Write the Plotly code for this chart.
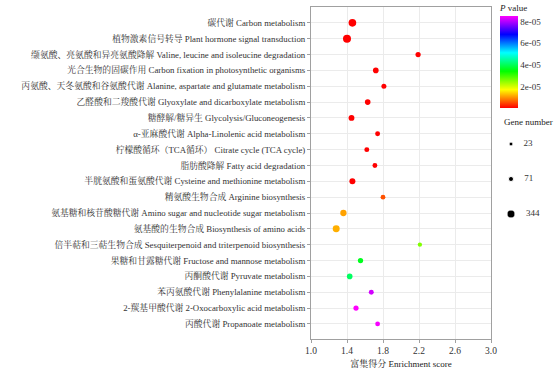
import plotly.graph_objects as go
import numpy as np

pathways = [
    "碳代谢 Carbon metabolism",
    "植物激素信号转导 Plant hormone signal transduction",
    "缬氨酸、亮氨酸和异亮氨酸降解 Valine, leucine and isoleucine degradation",
    "光合生物的固碳作用 Carbon fixation in photosynthetic organisms",
    "丙氨酸、天冬氨酸和谷氨酸代谢 Alanine, aspartate and glutamate metabolism",
    "乙醛酸和二羧酸代谢 Glyoxylate and dicarboxylate metabolism",
    "糖酵解/糖异生 Glycolysis/Gluconeogenesis",
    "α-亚麻酸代谢 Alpha-Linolenic acid metabolism",
    "柠檬酸循环（TCA循环） Citrate cycle (TCA cycle)",
    "脂肪酸降解 Fatty acid degradation",
    "半胱氨酸和蛋氨酸代谢 Cysteine and methionine metabolism",
    "精氨酸生物合成 Arginine biosynthesis",
    "氨基糖和核苷酸糖代谢 Amino sugar and nucleotide sugar metabolism",
    "氨基酸的生物合成 Biosynthesis of amino acids",
    "倍半萜和三萜生物合成 Sesquiterpenoid and triterpenoid biosynthesis",
    "果糖和甘露糖代谢 Fructose and mannose metabolism",
    "丙酮酸代谢 Pyruvate metabolism",
    "苯丙氨酸代谢 Phenylalanine metabolism",
    "2-羰基甲酸代谢 2-Oxocarboxylic acid metabolism",
    "丙酸代谢 Propanoate metabolism",
]
enrichment = [1.46, 1.40, 2.19, 1.72, 1.81, 1.63, 1.45, 1.74, 1.62, 1.71,
              1.46, 1.80, 1.36, 1.28, 2.21, 1.55, 1.43, 1.67, 1.50, 1.74]
gene_number = [300, 344, 80, 110, 68, 110, 125, 65, 65, 60,
               135, 55, 160, 225, 35, 85, 105, 65, 80, 55]
p_value = [1e-12, 1e-12, 2e-10, 5e-10, 8e-10, 1e-09, 2e-09, 3e-09, 5e-09, 8e-09,
           2e-08, 5.4e-06, 1.08e-05, 1.17e-05, 2.55e-05, 3.6e-05, 4.05e-05,
           8.2e-05, 8.5e-05, 8.45e-05]
legend_genes = [23, 71, 344]
cbar_ticks = [2e-05, 4e-05, 6e-05, 8e-05]
cbar_labels = ["2e-05", "4e-05", "6e-05", "8e-05"]

def dot_size(n):
    return 2.6 + 0.292 * np.sqrt(np.asarray(n, dtype=float))

FONT = "Liberation Serif, Times New Roman, Noto Serif CJK SC, Noto Sans CJK SC, serif"
colorscale = [[0.0, "#ff0000"], [0.2, "#ffff00"], [0.4, "#00ff00"],
              [0.6, "#00ffff"], [0.8, "#0000ff"], [1.0, "#ff00ff"]]

W, H = 554, 371
ml, mr, mt, mb = 311, 5, 7, 32
pw = W - ml - mr
ph = H - mt - mb
main_right = 491

fig = go.Figure()
fig.add_trace(go.Scatter(
    x=enrichment, y=pathways, mode="markers",
    marker=dict(size=dot_size(gene_number), color=p_value, colorscale=colorscale,
                cmin=0, cmax=8.5e-05, opacity=1, line=dict(width=0),
                colorbar=dict(
                    title=dict(text="<i>P</i> value", side="top",
                               font=dict(family=FONT, size=9, color="#222")),
                    x=(500 - ml) / pw, xanchor="left", xpad=0,
                    y=(H - mb - 1) / ph, yanchor="top", ypad=0,
                    thickness=18, lenmode="pixels", len=107,
                    tickvals=cbar_ticks, ticktext=cbar_labels, ticks="",
                    outlinewidth=0,
                    tickfont=dict(family=FONT, size=9, color="#333"))),
    showlegend=False, hoverinfo="x+y",
))

# size legend
fig.add_trace(go.Scatter(
    x=[0] * len(legend_genes), y=[str(g) for g in legend_genes],
    mode="markers+text", text=["    " + str(g) for g in legend_genes],
    textposition="middle right",
    textfont=dict(family=FONT, size=9, color="#333"),
    marker=dict(size=dot_size(legend_genes), color="black", opacity=1),
    xaxis="x2", yaxis="y2", showlegend=False, hoverinfo="skip", cliponaxis=False,
))

fig.update_layout(
    template="none",
    width=W, height=H,
    margin=dict(l=ml, r=mr, t=mt, b=mb, autoexpand=False),
    plot_bgcolor="white", paper_bgcolor="white",
    font=dict(family=FONT, size=9, color="#333"),
    xaxis=dict(domain=[0, (main_right - ml) / pw], range=[1.0, 3.0], automargin=False,
               tickvals=[1.0, 1.4, 1.8, 2.2, 2.6, 3.0],
               ticktext=["1.0", "1.4", "1.8", "2.2", "2.6", "3.0"],
               showgrid=True, gridcolor="#ebebeb", gridwidth=1,
               showline=True, linecolor="#a0a0a0", linewidth=1, mirror=True,
               ticks="outside", ticklen=3, tickcolor="#a0a0a0",
               tickfont=dict(family=FONT, size=9.5, color="#333"),
               zeroline=False,
               title=dict(text="富集得分 Enrichment score", standoff=5,
                          font=dict(family=FONT, size=9, color="#222"))),
    yaxis=dict(type="category", categoryorder="array", categoryarray=pathways,
               range=[len(pathways) - 0.05, -1.0], automargin=False,
               showgrid=True, gridcolor="#ebebeb", gridwidth=1,
               showline=True, linecolor="#a0a0a0", linewidth=1, mirror=True,
               ticks="outside", ticklen=3, tickcolor="#a0a0a0",
               tickfont=dict(family=FONT, size=8.8, color="#333"), zeroline=False),
    xaxis2=dict(domain=[(505 - ml) / pw, (545 - ml) / pw], range=[-0.15, 0.85],
                visible=False, anchor="y2", automargin=False),
    yaxis2=dict(domain=[(H - mb - 231.5) / ph, (H - mb - 126.5) / ph],
                type="category", categoryorder="array",
                categoryarray=[str(g) for g in legend_genes],
                range=[2.5, -0.5], visible=False, anchor="x2", automargin=False),
    annotations=[dict(text="Gene number", x=(502 - ml) / pw, y=(H - mb - 122) / ph,
                      xref="paper", yref="paper", xanchor="left", yanchor="middle",
                      showarrow=False, font=dict(family=FONT, size=9, color="#222"))],
)

fig.write_html("out.html", config={"displayModeBar": False},
               post_script="document.body.style.margin='0';document.body.style.padding='0';")
